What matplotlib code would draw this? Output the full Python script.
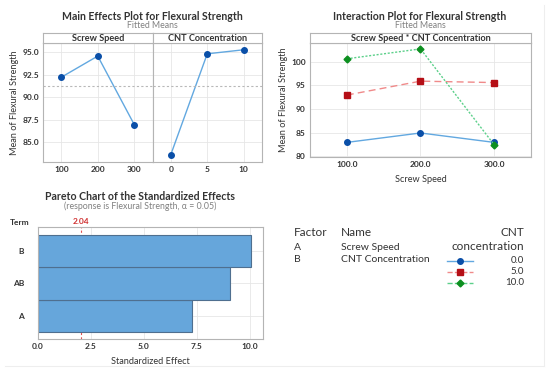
import matplotlib
matplotlib.use("Agg")
import matplotlib.pyplot as plt
from matplotlib.lines import Line2D

plt.rcParams['font.family'] = ['Lato', 'DejaVu Sans']

# main effects data
speed_levels = ["100", "200", "300"]
speed_means = [92.2, 94.55, 86.95]
cnt_levels = ["0", "5", "10"]
cnt_means = [83.6, 94.8, 95.25]
grand_mean = 91.2

# interaction data
inter_x = ["100.0", "200.0", "300.0"]
cnt_0 = [82.9, 84.9, 82.9]
cnt_5 = [92.95, 95.9, 95.6]
cnt_10 = [100.65, 102.75, 82.4]
inter_labels = ["0.0", "5.0", "10.0"]

# pareto data
terms = ["A", "AB", "B"]
effects = [7.28, 9.04, 10.05]
crit = 2.04

factors = ["A", "B"]
factor_names = ["Screw Speed", "CNT Concentration"]

W, H = 550, 376
fig = plt.figure(figsize=(5.5, 3.76), dpi=100)

def box(x0, y0, x1, y1):
    return [x0 / W, 1 - y1 / H, (x1 - x0) / W, (y1 - y0) / H]

grid_c = "#e6e6e6"
spine_c = "#b4b4b4"
txt_c = "#333333"
blue_line = "#62a8e0"
blue_mk = "#0a4fa8"
title_fs = 7.6
sub_fs = 6.3
lab_fs = 6.6

def style(ax):
    for s in ax.spines.values():
        s.set_color(spine_c)
        s.set_linewidth(0.8)
    ax.tick_params(length=0, labelsize=6, colors=txt_c, pad=3)
    for lb in ax.get_xticklabels() + ax.get_yticklabels():
        lb.set_fontweight("bold")
    ax.grid(True, color=grid_c, linewidth=0.6)
    ax.set_axisbelow(True)

def strip(x0, x1, label):
    sa = fig.add_axes(box(x0, 33, x1, 43))
    sa.set_xticks([])
    sa.set_yticks([])
    for s in sa.spines.values():
        s.set_color(spine_c)
        s.set_linewidth(0.8)
    sa.text(0.5, 0.45, label, ha="center", va="center", fontsize=6.6,
            fontweight="bold", color=txt_c, transform=sa.transAxes)

# ---- Main effects
for i, (levels, means, lab) in enumerate([(speed_levels, speed_means, "Screw Speed"),
                                          (cnt_levels, cnt_means, "CNT Concentration")]):
    x0 = 43 + i * 109.5
    ax = fig.add_axes(box(x0, 43, x0 + 109.5, 162))
    ax.plot(range(3), means, color=blue_line, lw=1.0, marker="o", ms=4,
            mfc=blue_mk, mec=blue_mk)
    ax.axhline(grand_mean, color="#b8b8b8", lw=0.8, ls=(0, (2, 2)))
    ax.set_xlim(-0.5, 2.5)
    ax.set_ylim(82.8, 96.0)
    ax.set_xticks(range(3))
    ax.set_xticklabels(levels)
    ax.set_yticks([85.0, 87.5, 90.0, 92.5, 95.0])
    ax.set_yticklabels(["85.0", "87.5", "90.0", "92.5", "95.0"])
    style(ax)
    if i == 1:
        ax.tick_params(labelleft=False)
    else:
        ax.set_ylabel("Mean of Flexural Strength", fontsize=lab_fs, color=txt_c, labelpad=2)
    strip(x0, x0 + 109.5, lab)

fig.text(152 / W, 1 - 16 / H, "Main Effects Plot for Flexural Strength", ha="center",
         va="center", fontsize=title_fs, fontweight="bold", color=txt_c)
fig.text(152 / W, 1 - 25.5 / H, "Fitted Means", ha="center", va="center",
         fontsize=sub_fs, color="#808080")

# ---- Interaction
ax2 = fig.add_axes(box(310, 43, 531, 157))
ax2.plot(range(3), cnt_0, color=blue_line, lw=1.0, marker="o", ms=4,
         mfc=blue_mk, mec=blue_mk, label=inter_labels[0])
ax2.plot(range(3), cnt_5, color="#f08a8a", lw=1.0, ls=(0, (5, 3)), marker="s", ms=4,
         mfc="#b50f16", mec="#b50f16", label=inter_labels[1])
ax2.plot(range(3), cnt_10, color="#5cd08a", lw=1.0, ls=(0, (1.5, 1.2)), marker="D", ms=3.5,
         mfc="#0c8f1f", mec="#0c8f1f", label=inter_labels[2])
ax2.set_xlim(-0.5, 2.5)
ax2.set_ylim(79.8, 104.0)
ax2.set_xticks(range(3))
ax2.set_xticklabels(inter_x)
ax2.set_yticks([80, 85, 90, 95, 100])
style(ax2)
ax2.set_ylabel("Mean of Flexural Strength", fontsize=lab_fs, color=txt_c, labelpad=2)
ax2.set_xlabel("Screw Speed", fontsize=lab_fs, color=txt_c, labelpad=5)
strip(310, 531, "Screw Speed * CNT Concentration")
fig.text(420 / W, 1 - 16 / H, "Interaction Plot for Flexural Strength", ha="center",
         va="center", fontsize=title_fs, fontweight="bold", color=txt_c)
fig.text(420 / W, 1 - 25.5 / H, "Fitted Means", ha="center", va="center",
         fontsize=sub_fs, color="#808080")

# ---- Pareto
ax3 = fig.add_axes(box(38, 227, 263, 339))
ax3.axvline(crit, color="#e05050", lw=0.8, ls=(0, (2, 2)), zorder=1)
ax3.barh(range(3), effects, height=1.0, color="#66a6db", edgecolor="#4f6f8f",
         linewidth=0.8, zorder=2)
ax3.set_ylim(-0.72, 2.75)
ax3.set_xlim(0, 10.62)
ax3.set_yticks(range(3))
ax3.set_yticklabels(terms)
ax3.set_xticks([0, 2.5, 5, 7.5, 10])
ax3.set_xticklabels(["0.0", "2.5", "5.0", "7.5", "10.0"])
style(ax3)
ax3.tick_params(axis="y", pad=10)
ax3.set_xlabel("Standardized Effect", fontsize=lab_fs, color=txt_c, labelpad=5)
ax3.text(crit, 2.8, "2.04", ha="center", va="bottom", fontsize=6, color="#d03030",
         fontweight="bold")
fig.text(20 / W, 1 - 222 / H, "Term", ha="center", va="center", fontsize=6,
         fontweight="bold", color=txt_c)
fig.text(140 / W, 1 - 196 / H, "Pareto Chart of the Standardized Effects", ha="center",
         va="center", fontsize=title_fs, fontweight="bold", color=txt_c)
fig.text(140 / W, 1 - 206.5 / H, "(response is Flexural Strength, \u03b1 = 0.05)",
         ha="center", va="center", fontsize=sub_fs, color="#808080")

# ---- Factor table and legend
fig.text(294 / W, 1 - 233 / H, "Factor", ha="left", va="center", fontsize=8.5, color=txt_c)
fig.text(341 / W, 1 - 233 / H, "Name", ha="left", va="center", fontsize=8.5, color=txt_c)
for k, (f, n) in enumerate(zip(factors, factor_names)):
    yy = 1 - (247 + k * 12.5) / H
    fig.text(294 / W, yy, f, ha="left", va="center", fontsize=7.5, color=txt_c)
    fig.text(341 / W, yy, n, ha="left", va="center", fontsize=7.5, color=txt_c)
fig.text(524 / W, 1 - 233 / H, "CNT", ha="right", va="center", fontsize=8.5, color=txt_c)
fig.text(524 / W, 1 - 246.5 / H, "concentration", ha="right", va="center", fontsize=8.5,
         color=txt_c)
for k, ln in enumerate(ax2.get_lines()):
    yy = 1 - (260.7 + k * 11) / H
    fig.add_artist(Line2D([447 / W, 473 / W], [yy, yy], color=ln.get_color(),
                          lw=ln.get_linewidth(), ls=ln.get_linestyle()))
    fig.add_artist(Line2D([460 / W], [yy], marker=ln.get_marker(), ms=ln.get_markersize(),
                          mfc=ln.get_markerfacecolor(), mec=ln.get_markeredgecolor(),
                          ls="none"))
    fig.text(524 / W, yy, ln.get_label(), ha="right", va="center", fontsize=7, color=txt_c)

# faint frame lines from the source image
fig.add_artist(Line2D([544 / W, 544 / W], [1 - 5 / H, 1 - 366 / H], color="#eeeeee", lw=0.8))
fig.add_artist(Line2D([5 / W, 544 / W], [1 - 366 / H, 1 - 366 / H], color="#eeeeee", lw=0.8))

fig.savefig("out.png", dpi=100, facecolor="white")
